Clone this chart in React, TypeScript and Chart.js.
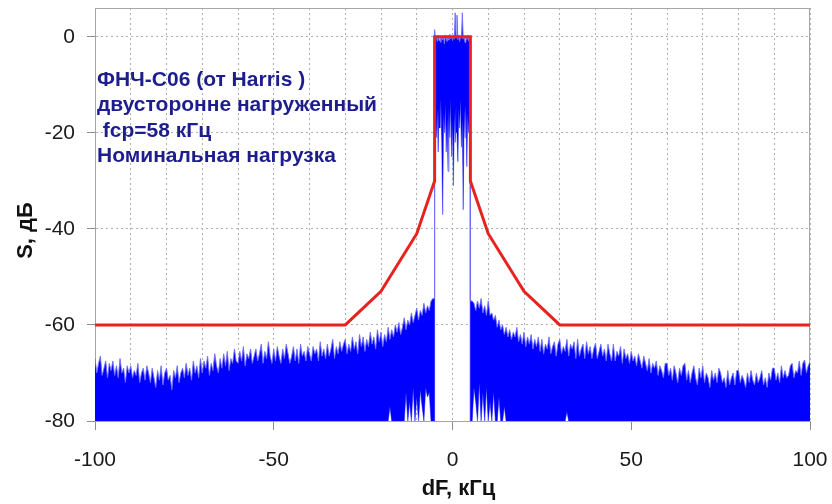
import { useEffect, useRef } from "react";
import { Chart, registerables } from "chart.js";

Chart.register(...registerables);

// ---------- data ----------
// frequency step of the out-of-band spectrum samples (kHz)
const sideStep = 0.5;
const leftStart = -100; // kHz, first left sample
const rightStart = 6; // kHz, first right sample (after 5.5 point)

// Upper envelope of spectrum, left of pass band: -100 ... -6 kHz, step 0.5
const spectrumLeft = [
  -67, -70, -68, -66.5, -70.5, -69, -67.5, -71, -68, -69.5,
  -67.5, -70.5, -68.5, -71, -67, -70, -69, -72, -68.5, -70,
  -68.5, -71, -69.5, -70.5, -68, -72, -70, -69, -71.5, -68.5,
  -70, -72, -69, -71, -73, -69.5, -71.5, -68.5, -72.5, -70,
  -69, -71.5, -70.5, -73.5, -69.5, -71, -68.5, -72, -70, -69,
  -71, -68, -70.5, -69, -71.5, -67.5, -70, -68.5, -71, -67,
  -70, -67.5, -69, -66.5, -70.5, -68, -69.5, -66, -68.5, -70,
  -67, -69, -66, -68.5, -65.5, -69.5, -67, -68, -65, -67.5,
  -68, -65.5, -67.5, -64.5, -68.5, -66, -67, -65, -68, -66.5,
  -65, -67.5, -66, -64, -68, -65.5, -67, -63.5, -66.5, -68,
  -65, -67.5, -64.5, -66.5, -68, -65, -67, -64, -66, -68,
  -66.5, -64.5, -67.5, -65, -68, -64, -66.5, -65.5, -67.5, -64.5,
  -66, -67.5, -64.5, -66, -65, -67.5, -63.5, -66.5, -65, -67,
  -64, -66.5, -65, -63, -67, -64.5, -66, -63.5, -65.5, -64,
  -63, -66, -64, -65.5, -62.5, -65, -63.5, -66, -62, -64.5,
  -62.5, -65.5, -63, -64.5, -61.5, -64, -62.5, -65, -61, -63.5,
  -61.5, -64.5, -62, -63.5, -60.5, -63, -61, -62.5, -60, -61.5,
  -59.5, -62, -60.5, -58.5, -61, -59, -60, -57.5, -59.5, -58,
  -56.5, -59, -57, -58, -55.5, -57.5, -56, -57,
  -55,
];

// Upper envelope right of pass band: 6 ... 100 kHz, step 0.5
const spectrumRight = [
  -55.5, -57, -55, -56.5, -54.5, -57.5, -56, -58,
  -55, -58, -57.5, -59, -58, -60.5, -59, -61, -60, -62,
  -60.5, -62.5, -61, -63, -61.5, -62.5, -60.5, -63.5, -62, -64,
  -61.5, -64.5, -62.5, -64, -62, -65, -63, -64.5, -62.5, -65.5,
  -63, -66, -64, -65, -62.5, -66, -64.5, -63.5, -66.5, -64,
  -63, -66, -64.5, -65.5, -63, -66.5, -64, -65, -63.5, -67,
  -63, -66.5, -65, -64, -67, -63.5, -66, -64.5, -67, -65,
  -63.8, -67, -65.5, -64, -66.5, -65, -67.5, -64, -66, -67.5,
  -64, -67.5, -65.5, -66.5, -64.5, -68, -65, -67, -66, -68,
  -65.5, -67.5, -66.5, -68.5, -66, -67.5, -69, -66.5, -68, -69.5,
  -67, -70, -68, -69, -67.5, -70.5, -68.5, -69.5, -71, -68,
  -68, -70.5, -69, -71.5, -68.5, -70, -72, -69, -70.5, -68.5,
  -68, -71.5, -69.5, -72, -70, -68.5, -71, -72.5, -69, -71,
  -68.5, -72, -70, -71, -73, -69.5, -71.5, -70, -72, -69,
  -70, -72, -71, -73, -69.5, -72.5, -71, -70, -72.5, -69.5,
  -69.5, -72, -70.5, -71.5, -73, -70, -72, -69.5, -71.5, -72.5,
  -70, -72, -71, -69.5, -72.5, -71, -73, -70, -71.5, -69,
  -69, -71.5, -70, -72, -68.5, -71, -69.5, -71, -70.5, -68.5,
  -68, -71, -69.5, -70, -67.5, -70.5, -68, -67.3, -70, -68.5,
  -67.7,
];

// samples next to the pass band edges
const edgeLeft = { f: -5.5, s: -54.5 };
const edgeRight = { f: 5.5, s: -55 };
const bandEdge = 5; // kHz
const floorLevel = -80;

// pass band: -5 ... 5 kHz, step 0.25
const bandStep = 0.25;
const bandUpper = [
  1.5, -0.5, 0, -1, 0.3, -0.8, 0, -1.2, 0.2, -0.6,
  0, -1.5, 0.4, -0.3, -1, 0.2, -0.7, 0.5, -0.4, 0.1,
  -0.8, 0.3, -0.5, 5, -0.2, 4.5, -0.6, 0.4, -1, 0,
  -0.3, 5, -0.5, 0.2, -1.2, 0, -0.6, 0.3, -0.9, 0,
  -0.5,
];
const bandLower = [
  -22, -16, -21, -15, -24, -14, -19, -13, -22, -37,
  -16, -20, -14, -24, -17, -28, -15, -21, -13, -25,
  -18, -31, -16, -22, -14, -20, -26, -15, -19, -13,
  -23, -17, -36, -15, -21, -14, -27, -16, -20, -15,
  -22,
];

// gaps of the noise floor (lower edge above -80 dB): [kHz, dB]
const floorGaps: [number, number][] = [
  [-17.5, -77], [-13, -74], [-12, -76], [-11, -73], [-10, -75],
  [-9, -73.5], [-8.5, -77], [-7.5, -73], [-7, -75], [-6.5, -74],
  [6, -73], [6.5, -76], [7.5, -72], [8.5, -74], [9.5, -73],
  [10.5, -76], [11.5, -74], [13, -75], [14.5, -77], [32, -78],
];

// mask (red)
const maskFreq = [-100, -30, -20, -10, -5, -5, 5, 5, 10, 20, 30, 100];
const maskLevel = [-60, -60, -53, -41, -30, 0, 0, -30, -41, -53, -60, -60];

const xTicks = [-100, -90, -80, -70, -60, -50, -40, -30, -20, -10, 0, 10, 20, 30, 40, 50, 60, 70, 80, 90, 100];
const xLabelled = [-100, -50, 0, 50, 100];
const yTicks = [-80, -60, -40, -20, 0];

const xTitle = "dF, кГц";
const yTitle = "S, дБ";
const noteLines = [
  "ФНЧ-С06 (от Harris )",
  "двусторонне нагруженный",
  " fcp=58 кГц",
  "Номинальная нагрузка",
];

const FONT = "'Liberation Sans', Arial, sans-serif";

export default function App() {
  const ref = useRef<HTMLCanvasElement | null>(null);

  useEffect(() => {
    document.body.style.margin = "0";
    const canvas = ref.current;
    if (!canvas) return;

    // build spectrum boundaries
    const gapAt = (f: number) => {
      const g = floorGaps.find((p) => Math.abs(p[0] - f) < 1e-6);
      return g ? g[1] : floorLevel;
    };
    const upper: { x: number; y: number }[] = [];
    const lower: { x: number; y: number }[] = [];
    spectrumLeft.forEach((v, i) => {
      const f = leftStart + i * sideStep;
      upper.push({ x: f, y: v });
      lower.push({ x: f, y: gapAt(f) });
    });
    upper.push({ x: edgeLeft.f, y: edgeLeft.s });
    lower.push({ x: edgeLeft.f, y: floorLevel });
    upper.push({ x: -bandEdge, y: edgeLeft.s });
    lower.push({ x: -bandEdge, y: floorLevel });
    bandUpper.forEach((v, i) => {
      const f = -bandEdge + i * bandStep;
      upper.push({ x: f, y: v });
      lower.push({ x: f, y: bandLower[i] });
    });
    upper.push({ x: bandEdge, y: edgeRight.s });
    lower.push({ x: bandEdge, y: floorLevel });
    upper.push({ x: edgeRight.f, y: edgeRight.s });
    lower.push({ x: edgeRight.f, y: floorLevel });
    spectrumRight.forEach((v, i) => {
      const f = rightStart + i * sideStep;
      upper.push({ x: f, y: v });
      lower.push({ x: f, y: gapAt(f) });
    });

    const mask = maskFreq.map((f, i) => ({ x: f, y: maskLevel[i] }));

    const framePlugin = {
      id: "frame",
      beforeDatasetsDraw(chart: any) {
        const { ctx, chartArea: a } = chart;
        ctx.save();
        ctx.strokeStyle = "#a6a6a6";
        ctx.lineWidth = 1;
        ctx.strokeRect(a.left + 0.5, a.top + 0.5, a.right - a.left - 1, a.bottom - a.top);
        ctx.restore();
      },
    };

    const textPlugin = {
      id: "texts",
      afterDraw(chart: any) {
        const { ctx, chartArea: a } = chart;
        ctx.save();
        // annotation
        ctx.fillStyle = "#1d1d8e";
        ctx.font = `bold 21px ${FONT}`;
        ctx.textAlign = "left";
        ctx.textBaseline = "alphabetic";
        const base = [86, 111, 137, 162];
        noteLines.forEach((t, i) => ctx.fillText(t, a.left + 2, base[i]));
        // axis titles
        ctx.fillStyle = "#111111";
        ctx.font = `bold 22px ${FONT}`;
        ctx.textAlign = "center";
        ctx.textBaseline = "middle";
        ctx.fillText(xTitle, (a.left + a.right) / 2 + 6, 489);
        ctx.translate(26, (a.top + a.bottom) / 2 + 16);
        ctx.rotate(-Math.PI / 2);
        ctx.fillText(yTitle, 0, 0);
        ctx.restore();
      },
    };

    const chart = new Chart(canvas, {
      type: "line",
      data: {
        datasets: [
          {
            label: "mask",
            data: mask,
            borderColor: "#e8231f",
            borderWidth: 3,
            pointRadius: 0,
            fill: false,
            tension: 0,
          },
          {
            label: "spectrum",
            data: upper,
            borderColor: "rgba(110,110,255,0.9)",
            backgroundColor: "#0000ff",
            borderWidth: 1,
            pointRadius: 0,
            fill: "+1",
            tension: 0,
          },
          {
            label: "spectrum-low",
            data: lower,
            borderColor: "rgba(110,110,255,0.9)",
            borderWidth: 1,
            pointRadius: 0,
            fill: false,
            tension: 0,
          },
        ],
      },
      options: {
        animation: false,
        responsive: false,
        devicePixelRatio: 1,
        parsing: false as any,
        layout: { padding: { top: 8, right: 22, left: 0, bottom: 0 } },
        plugins: { legend: { display: false }, tooltip: { enabled: false } },
        scales: {
          x: {
            type: "linear",
            min: -100,
            max: 100,
            afterBuildTicks: (s: any) => {
              s.ticks = xTicks.map((v) => ({ value: v }));
            },
            afterFit: (s: any) => {
              s.height = 83;
              s.paddingLeft = 0;
              s.paddingRight = 0;
            },
            ticks: {
              autoSkip: false,
              maxRotation: 0,
              minRotation: 0,
              padding: 18,
              color: "#1a1a1a",
              font: { family: FONT, size: 21 },
              callback: (v: any) => (xLabelled.includes(Number(v)) ? String(v) : ""),
            },
            grid: {
              color: "#b0b0b0",
              lineWidth: 1,
              tickLength: 9,
              tickBorderDash: [],
              tickColor: (c: any) =>
                c.tick && xLabelled.includes(c.tick.value) ? "#8c8c8c" : "rgba(0,0,0,0)",
            } as any,
            border: { display: true, color: "#a6a6a6", dash: [2, 3] } as any,
          },
          y: {
            type: "linear",
            min: -80,
            max: 6,
            afterBuildTicks: (s: any) => {
              s.ticks = yTicks.map((v) => ({ value: v }));
            },
            afterFit: (s: any) => {
              s.width = 95;
              s.paddingTop = 0;
              s.paddingBottom = 0;
            },
            ticks: {
              padding: 12,
              color: "#1a1a1a",
              font: { family: FONT, size: 21 },
            },
            grid: {
              color: "#b0b0b0",
              lineWidth: 1,
              tickLength: 8,
              tickBorderDash: [],
              tickColor: "#8c8c8c",
            } as any,
            border: { display: true, color: "#a6a6a6", dash: [2, 3] } as any,
          },
        },
      },
      plugins: [framePlugin, textPlugin],
    });

    return () => chart.destroy();
  }, []);

  return (
    <div style={{ width: 832, height: 504, background: "#ffffff" }}>
      <canvas ref={ref} width={832} height={504} style={{ display: "block" }} />
    </div>
  );
}
